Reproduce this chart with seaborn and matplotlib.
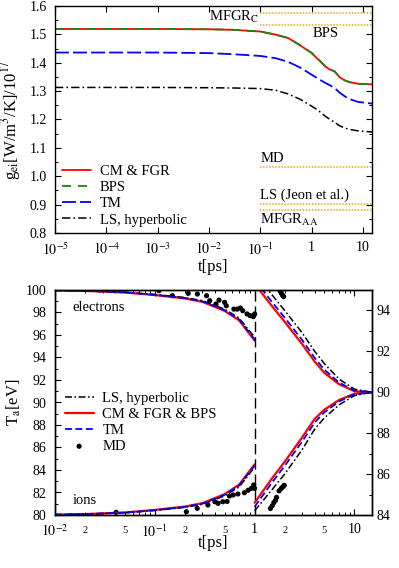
import matplotlib
matplotlib.use("Agg")
import matplotlib.pyplot as plt
import matplotlib.ticker as mticker
import seaborn as sns

# ---- top panel: electron-ion coupling g_ei(t) ----
t_top = [1e-5, 1e-3, 1e-2, 0.03, 0.1, 0.2, 0.35, 0.6, 1.0, 1.3, 1.8, 2.2, 2.8, 3.5, 4.4, 5.5, 8.0, 15.0]
g_cm_fgr = [1.519, 1.519, 1.518, 1.516, 1.510, 1.499, 1.487, 1.461, 1.434, 1.414, 1.389, 1.377, 1.370, 1.349, 1.338, 1.332, 1.326, 1.324]
g_bps = [1.519, 1.519, 1.518, 1.516, 1.510, 1.499, 1.487, 1.462, 1.435, 1.415, 1.390, 1.378, 1.369, 1.350, 1.338, 1.331, 1.326, 1.324]
g_tm = [1.436, 1.436, 1.434, 1.430, 1.424, 1.416, 1.403, 1.383, 1.358, 1.345, 1.330, 1.322, 1.311, 1.295, 1.282, 1.272, 1.262, 1.256]
g_ls = [1.313, 1.313, 1.312, 1.311, 1.309, 1.303, 1.290, 1.271, 1.247, 1.234, 1.213, 1.202, 1.190, 1.178, 1.170, 1.165, 1.160, 1.156]

# constant reference values (dotted orange)
ref_names = ["MFGR$_\\mathrm{C}$", "BPS", "MD", "LS (Jeon et al.)", "MFGR$_\\mathrm{AA}$"]
ref_values = [1.574, 1.534, 1.031, 0.903, 0.881]

# ---- bottom panel: temperatures ----
# t < 1 ps, left axis
t_left = [0.01, 0.02, 0.05, 0.1, 0.2, 0.3, 0.5, 0.7, 1.0]
Te_cm_left = [99.97, 99.92, 99.78, 99.55, 99.25, 98.95, 98.15, 97.3, 95.5]
Te_tm_left = [99.97, 99.92, 99.79, 99.57, 99.28, 98.99, 98.2, 97.38, 95.62]
Te_ls_left = [99.97, 99.93, 99.8, 99.6, 99.33, 99.05, 98.3, 97.5, 95.8]
Ti_cm_left = [80.03, 80.08, 80.22, 80.45, 80.75, 81.05, 81.85, 82.7, 84.5]
Ti_tm_left = [80.03, 80.08, 80.21, 80.43, 80.72, 81.01, 81.8, 82.62, 84.4]
Ti_ls_left = [80.03, 80.07, 80.2, 80.4, 80.68, 80.95, 81.7, 82.5, 84.25]

# t > 1 ps, right axis
t_right = [1.0, 1.5, 2.0, 3.0, 4.0, 5.0, 7.0, 10.0, 15.0]
Te_cm_right = [95.3, 94.2, 93.45, 92.35, 91.5, 90.95, 90.4, 90.05, 90.0]
Te_tm_right = [95.5, 94.4, 93.65, 92.55, 91.68, 91.1, 90.48, 90.08, 90.0]
Te_ls_right = [95.8, 94.75, 94.0, 92.9, 92.0, 91.4, 90.65, 90.15, 90.0]
Ti_cm_right = [84.6, 85.8, 86.6, 87.8, 88.7, 89.15, 89.62, 89.93, 90.0]
Ti_tm_right = [84.4, 85.6, 86.4, 87.6, 88.52, 89.02, 89.55, 89.9, 90.0]
Ti_ls_right = [84.2, 85.25, 86.0, 87.2, 88.2, 88.75, 89.38, 89.84, 90.0]

# MD points
md_t_el_left = [0.11, 0.15, 0.216, 0.267, 0.33, 0.355, 0.41, 0.44, 0.50, 0.52, 0.62, 0.67, 0.72, 0.76, 0.84, 0.90, 0.97, 1.0]
md_T_el_left = [99.94, 99.49, 99.7, 99.64, 99.49, 99.05, 98.75, 99.1, 98.9, 98.6, 98.3, 98.3, 98.4, 98.16, 97.87, 97.72, 97.63, 97.87]
md_t_ion_left = [0.041, 0.207, 0.266, 0.34, 0.40, 0.43, 0.48, 0.53, 0.56, 0.61, 0.68, 0.79, 0.86, 0.93, 0.98, 1.0]
md_T_ion_left = [80.24, 80.29, 80.59, 80.89, 81.18, 81.04, 81.18, 81.2, 81.69, 81.78, 81.87, 81.98, 82.2, 82.37, 82.67, 82.37]
md_t_el_right = [1.76, 1.80, 1.85, 1.90, 1.95]
md_T_el_right = [95.05, 94.95, 94.85, 94.75, 94.68]
md_t_ion_right = [1.44, 1.50, 1.56, 1.62, 1.66, 1.76, 1.85, 1.92, 1.98]
md_T_ion_right = [84.32, 84.45, 84.61, 84.72, 84.86, 85.18, 85.3, 85.38, 85.45]

sns.set_theme(style="ticks", rc={"axes.edgecolor": "black", "xtick.color": "black",
                                 "ytick.color": "black", "text.color": "black",
                                 "axes.labelcolor": "black"})
plt.rcParams["font.family"] = ["Liberation Serif", "DejaVu Serif"]
plt.rcParams["mathtext.fontset"] = "stix"
plt.rcParams["lines.scale_dashes"] = False

ORANGE = "#ffa500"


def style_ticks(ax):
    ax.tick_params(which="both", direction="in", labelsize=10)
    ax.tick_params(which="major", length=4.5, width=0.8)
    ax.tick_params(which="minor", length=2.5, width=0.7)
    for s in ax.spines.values():
        s.set_linewidth(1.0)


fig = plt.figure(figsize=(3.99, 5.68), dpi=100)
ax1 = fig.add_axes([55 / 399, 1 - 233 / 568, 317 / 399, 227 / 568])
ax2 = fig.add_axes([55 / 399, 1 - 515 / 568, 317 / 399, 225 / 568])
ax2r = ax2.twinx()

# ---------------- top ----------------
sns.lineplot(x=t_top, y=g_cm_fgr, ax=ax1, color="red", lw=1.3, label="CM & FGR")
sns.lineplot(x=t_top, y=g_bps, ax=ax1, color="#138a13", lw=1.3, linestyle=(0, (6.5, 5)), label="BPS")
sns.lineplot(x=t_top, y=g_tm, ax=ax1, color="blue", lw=1.3, linestyle=(0, (10, 3)), label="TM")
sns.lineplot(x=t_top, y=g_ls, ax=ax1, color="black", lw=1.1, linestyle=(0, (6, 2.2, 1.2, 2.2)),
             label="LS, hyperbolic")

for v in ref_values:
    ax1.hlines(v, 0.1, 15, color=ORANGE, lw=1.2, linestyle=(0, (1, 1.2)))

# labels of the reference lines
ax1.annotate(ref_names[0], (0.1, ref_values[0]), xytext=(-1, -2.5), textcoords="offset points",
             ha="right", va="center", fontsize=10.5)
ax1.annotate(ref_names[1], (1.05, ref_values[1]), xytext=(0, -1.5), textcoords="offset points",
             ha="left", va="top", fontsize=10.5)
ax1.annotate(ref_names[2], (0.1, ref_values[2]), xytext=(0, 1.5), textcoords="offset points",
             ha="left", va="bottom", fontsize=10.5)
ax1.annotate(ref_names[3], (0.1, ref_values[3]), xytext=(0, 1.0), textcoords="offset points",
             ha="left", va="bottom", fontsize=10.5)
ax1.annotate(ref_names[4], (0.1, ref_values[4]), xytext=(0, -1.5), textcoords="offset points",
             ha="left", va="top", fontsize=10.5)

ax1.set_xscale("log")
ax1.set_xlim(1e-5, 15)
ax1.set_ylim(0.8, 1.6)
ax1.set_xticks([1e-5, 1e-4, 1e-3, 1e-2, 1e-1, 1, 10])
ax1.set_xticklabels(["$10^{-5}$", "$10^{-4}$", "$10^{-3}$", "$10^{-2}$", "$10^{-1}$", "1", "10"])
ax1.xaxis.set_minor_locator(mticker.NullLocator())
ax1.yaxis.set_major_locator(mticker.MultipleLocator(0.1))
ax1.yaxis.set_minor_locator(mticker.MultipleLocator(0.05))
ax1.yaxis.set_major_formatter(mticker.FormatStrFormatter("%.1f"))
style_ticks(ax1)
ax1.tick_params(which="both", top=True, right=True)
ax1.tick_params(axis="x", pad=6)
ax1.tick_params(axis="y", pad=6)
ax1.set_xlabel("t[ps]", fontsize=12)
ax1.set_ylabel("g$_\\mathrm{ei}$[W/m$^3$/K]/10$^{17}$", fontsize=12)
ax1.xaxis.set_label_coords(0.5, -0.115)
ax1.yaxis.set_label_coords(-0.1, 0.5)
ax1.legend(loc="center left", bbox_to_anchor=(0.022, 0.164), frameon=False, fontsize=10.5,
           borderpad=0, borderaxespad=0, handlelength=2.0, handletextpad=0.6, labelspacing=0.2)

# ---------------- bottom ----------------
dash_tm = (0, (5, 2.5))
dash_ls = (0, (5, 1.8, 1.2, 1.8))
for Te, Ti, col, lw, ls, lab in [
    (Te_cm_left, Ti_cm_left, "red", 1.6, "-", "CM & FGR & BPS"),
    (Te_ls_left, Ti_ls_left, "black", 1.1, dash_ls, "LS, hyperbolic"),
    (Te_tm_left, Ti_tm_left, "blue", 1.3, dash_tm, "TM"),
]:
    sns.lineplot(x=t_left, y=Te, ax=ax2, color=col, lw=lw, linestyle=ls, label=lab)
    sns.lineplot(x=t_left, y=Ti, ax=ax2, color=col, lw=lw, linestyle=ls)

for Te, Ti, col, lw, ls in [
    (Te_cm_right, Ti_cm_right, "red", 1.6, "-"),
    (Te_ls_right, Ti_ls_right, "black", 1.1, dash_ls),
    (Te_tm_right, Ti_tm_right, "blue", 1.3, dash_tm),
]:
    sns.lineplot(x=t_right, y=Te, ax=ax2r, color=col, lw=lw, linestyle=ls, legend=False)
    sns.lineplot(x=t_right, y=Ti, ax=ax2r, color=col, lw=lw, linestyle=ls, legend=False)

sns.scatterplot(x=md_t_el_left, y=md_T_el_left, ax=ax2, color="black", s=14, edgecolor="none", label="MD")
sns.scatterplot(x=md_t_ion_left, y=md_T_ion_left, ax=ax2, color="black", s=14, edgecolor="none")
sns.scatterplot(x=md_t_el_right, y=md_T_el_right, ax=ax2r, color="black", s=14, edgecolor="none", legend=False)
sns.scatterplot(x=md_t_ion_right, y=md_T_ion_right, ax=ax2r, color="black", s=14, edgecolor="none", legend=False)

ax2.axvline(1.0, color="black", lw=1.0, linestyle=(0, (7.5, 3.5)))

ax2.set_xscale("log")
ax2.set_xlim(0.01, 15)
ax2.set_ylim(80, 100)
ax2r.set_ylim(84, 95)
ax2.set_xticks([0.01, 0.1, 1, 10])
ax2.set_xticklabels(["$10^{-2}$", "$10^{-1}$", "1", "10"])
ax2.xaxis.set_minor_locator(mticker.LogLocator(base=10, subs=range(2, 10), numticks=20))


def minor_lab(x, pos):
    m = round(x / 10 ** int(f"{x:e}".split("e")[1]))
    return str(m) if m in (2, 5) else ""


ax2.xaxis.set_minor_formatter(mticker.FuncFormatter(minor_lab))
ax2.yaxis.set_major_locator(mticker.MultipleLocator(2))
ax2.yaxis.set_minor_locator(mticker.MultipleLocator(1))
ax2r.yaxis.set_major_locator(mticker.MultipleLocator(2))
ax2r.yaxis.set_minor_locator(mticker.MultipleLocator(1))
style_ticks(ax2)
style_ticks(ax2r)
ax2.tick_params(which="both", top=True, right=False)
ax2.tick_params(axis="x", pad=6)
ax2.tick_params(axis="x", which="minor", labelsize=7.5, pad=8)
ax2.tick_params(axis="y", pad=6)
ax2r.tick_params(axis="y", pad=3)
ax2.set_xlabel("t[ps]", fontsize=12)
ax2.set_ylabel("T$_\\mathrm{a}$[eV]", fontsize=12)
ax2.xaxis.set_label_coords(0.5, -0.09)
ax2.yaxis.set_label_coords(-0.1, 0.5)
ax2r.set_ylabel("")

ax2.text(0.056, 0.921, "electrons", transform=ax2.transAxes, fontsize=10.5, va="center")
ax2.text(0.056, 0.064, "ions", transform=ax2.transAxes, fontsize=10.5, va="center")

handles, labels = ax2.get_legend_handles_labels()
hmap = dict(zip(labels, handles))
order = ["LS, hyperbolic", "CM & FGR & BPS", "TM", "MD"]
ax2.legend([hmap[k] for k in order], order, loc="center left", bbox_to_anchor=(0.03, 0.412),
           frameon=False, fontsize=10.5, borderpad=0, borderaxespad=0, handlelength=2.0,
           handletextpad=0.6, labelspacing=0.2)

fig.savefig("out.png", dpi=100)
